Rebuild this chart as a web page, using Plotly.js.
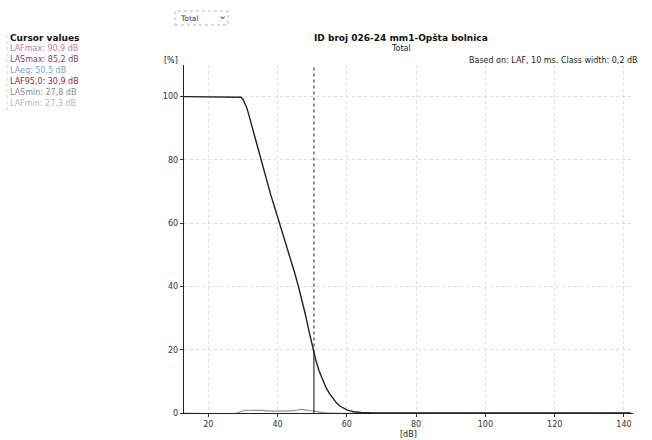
<!DOCTYPE html>
<html>
<head>
<meta charset="utf-8">
<script src="https://cdn.plot.ly/plotly-3.0.1.min.js"></script>
<style>
html,body{margin:0;padding:0;background:#fff;}
#chart{width:652px;height:440px;}
</style>
</head>
<body>
<div id="chart"></div>
<script>
// Cumulative distribution (LAF, % of time above level)
var levelsDb = [13, 20, 25, 29, 29.5, 30, 30.5, 31, 31.5, 32, 33, 34, 35, 36, 37, 38, 39, 40, 41, 42, 43, 44, 45, 46, 47, 48, 49, 50, 51, 52, 53, 54, 55, 56, 57, 58, 59, 60, 61, 62, 64, 66, 68, 80, 100, 120, 142];
var cumulativePct = [100, 100, 100, 100, 99.8, 99.2, 98.2, 96.8, 95.1, 93.1, 89, 84.6, 80.3, 76.4, 72.7, 69.1, 65.6, 62.1, 58.6, 55.1, 51.6, 47.9, 44.1, 40.1, 35.9, 31.3, 26.3, 21.3, 16.9, 13.3, 10.4, 8, 6.1, 4.5, 3.2, 2.2, 1.5, 1.0, 0.65, 0.4, 0.15, 0.05, 0, 0, 0, 0, 0];
// Level distribution (% per class)
var distDb  = [13, 28.5, 29.5, 31, 33, 35, 37, 39, 41, 43, 45, 46, 47, 48, 49, 50, 51, 52, 53, 55, 142];
var distPct = [0, 0, 0.55, 0.85, 0.85, 0.8, 0.7, 0.6, 0.6, 0.65, 0.85, 1.0, 1.15, 1.0, 0.8, 0.65, 0.5, 0.35, 0.15, 0, 0];
var cursorDb = 50.5;
var xTicks = [20, 40, 60, 80, 100, 120, 140];
var yTicks = [0, 20, 40, 60, 80, 100];
var cursorLabels = ["LAFmax: 90,9 dB", "LASmax: 85,2 dB", "LAeq: 50,5 dB", "LAF95,0: 30,9 dB", "LASmin: 27,8 dB", "LAFmin: 27,3 dB"];
var cursorColors = ["#c97aa6", "#8e3a72", "#7f9fd8", "#9a1f3e", "#8a8a8a", "#b8b8b8"];

function interp(xs, ys, x) {
  for (var i = 0; i < xs.length - 1; i++) {
    if (x >= xs[i] && x <= xs[i + 1]) {
      var t = (x - xs[i]) / (xs[i + 1] - xs[i]);
      return ys[i] + t * (ys[i + 1] - ys[i]);
    }
  }
  return 0;
}
var cursorY = interp(levelsDb, cumulativePct, cursorDb);

var font = "DejaVu Sans, Verdana, sans-serif";

var traces = [
  {x: distDb, y: distPct, mode: "lines", line: {color: "#a08a98", width: 1.2, shape: "spline"}, hoverinfo: "skip"},
  {x: [cursorDb, cursorDb], y: [cursorY, 110], mode: "lines", line: {color: "#7a4a86", width: 1.4, dash: "dot"}, hoverinfo: "skip"},
  {x: [cursorDb, cursorDb], y: [0, cursorY], mode: "lines", line: {color: "#333", width: 1.2}, hoverinfo: "skip"},
  {x: levelsDb, y: cumulativePct, mode: "lines", line: {color: "#222", width: 1.4}, hoverinfo: "skip"}
];

var annotations = [
  {text: "<b>ID broj 026-24 mm1-Opšta bolnica</b>", xref: "paper", yref: "paper", x: 0.484, y: 1.078, xanchor: "center", yanchor: "middle", showarrow: false, font: {family: font, size: 9, color: "#111"}},
  {text: "Total", xref: "paper", yref: "paper", x: 0.484, y: 1.046, xanchor: "center", yanchor: "middle", showarrow: false, font: {family: font, size: 8, color: "#222"}},
  {text: "Based on: LAF, 10 ms. Class width: 0,2 dB", xref: "paper", yref: "paper", x: 1.015, y: 1.014, xanchor: "right", yanchor: "middle", showarrow: false, font: {family: font, size: 8, color: "#222"}},
  {text: "[%]", xref: "paper", yref: "paper", x: -0.01, y: 1.014, xanchor: "right", yanchor: "middle", showarrow: false, font: {family: font, size: 8, color: "#222"}},
  {text: "[dB]", xref: "paper", yref: "paper", x: 0.5, y: -0.063, xanchor: "center", yanchor: "middle", showarrow: false, font: {family: font, size: 8, color: "#222"}},
  {text: "<b>Cursor values</b>", xref: "paper", yref: "paper", x: -0.392, y: 1.078, xanchor: "left", yanchor: "middle", showarrow: false, font: {family: font, size: 9, color: "#111"}},
  {text: "Total", xref: "paper", yref: "paper", x: -0.014, y: 1.135, xanchor: "left", yanchor: "middle", showarrow: false, font: {family: font, size: 7.5, color: "#444"}},
  {text: "⌄", xref: "paper", yref: "paper", x: 0.085, y: 1.143, xanchor: "center", yanchor: "middle", showarrow: false, font: {family: font, size: 11, color: "#556"}}
];
for (var i = 0; i < cursorLabels.length; i++) {
  annotations.push({text: cursorLabels[i], xref: "paper", yref: "paper", x: -0.392, y: 1.046 - i * 0.0315, xanchor: "left", yanchor: "middle", showarrow: false, font: {family: font, size: 8, color: cursorColors[i]}});
}

var shapes = [
  {type: "line", xref: "paper", yref: "paper", x0: -0.394, x1: -0.394, y0: 0.87, y1: 1.095, line: {color: "#d4d4d4", width: 1, dash: "dot"}},
  {type: "rect", xref: "paper", yref: "paper", x0: -0.02, x1: 0.098, y0: 1.115, y1: 1.155, line: {color: "#b8b8c8", width: 1, dash: "dot"}}
];

var layout = {
  width: 652, height: 440,
  margin: {l: 184, r: 19, t: 65, b: 27},
  paper_bgcolor: "#fff", plot_bgcolor: "#fff",
  showlegend: false,
  xaxis: {range: [13, 142.6], tickvals: xTicks, ticks: "outside", ticklen: 3, tickcolor: "#333",
          showgrid: true, gridcolor: "#dedede", griddash: "dot", gridwidth: 1,
          showline: true, linecolor: "#222", linewidth: 1.3, zeroline: false,
          tickfont: {family: font, size: 8, color: "#333"}},
  yaxis: {range: [0, 110], tickvals: yTicks, ticks: "outside", ticklen: 3, tickcolor: "#333",
          showgrid: true, gridcolor: "#dedede", griddash: "dot", gridwidth: 1,
          showline: true, linecolor: "#222", linewidth: 1.3, zeroline: false,
          tickfont: {family: font, size: 8, color: "#333"}},
  annotations: annotations,
  shapes: shapes
};

Plotly.newPlot("chart", traces, layout, {displayModeBar: false, staticPlot: true});
</script>
</body>
</html>
